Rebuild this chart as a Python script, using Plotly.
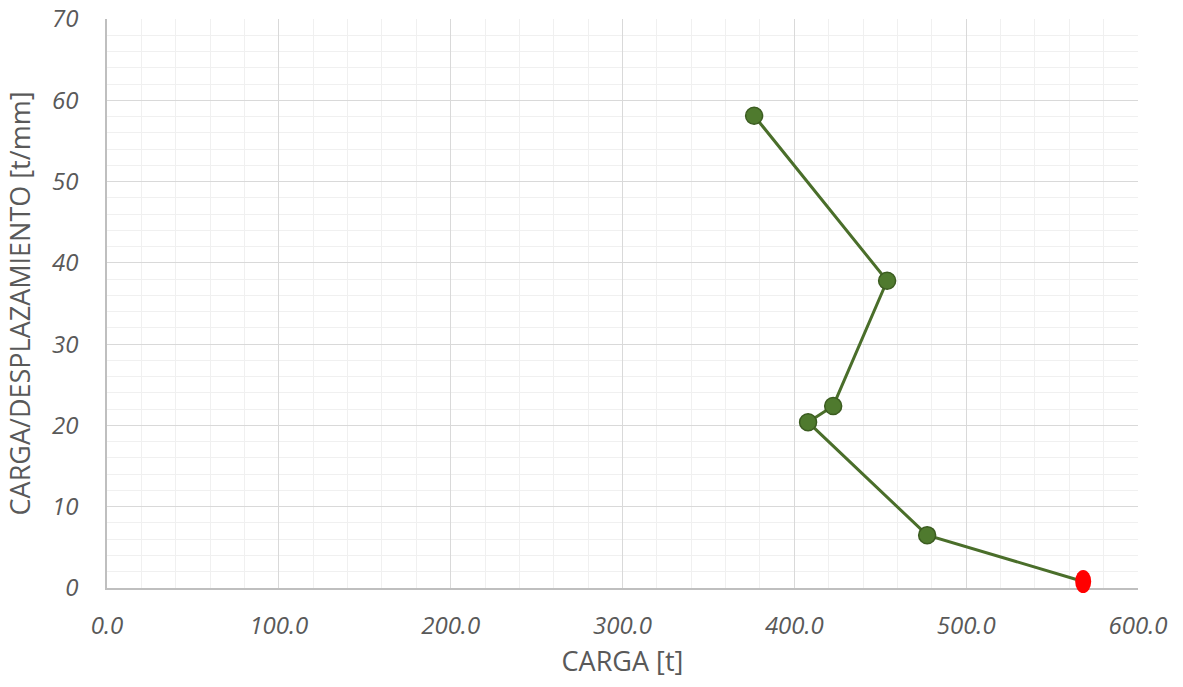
import plotly.graph_objects as go

# Load test results: load vs. load/displacement ratio
carga = [376.6, 454.0, 422.6, 408.0, 477.3, 568.1]
rigidez = [58.1, 37.8, 22.4, 20.4, 6.5, 0.8]

x_ticks = [0, 100, 200, 300, 400, 500, 600]
x_labels = ["0.0", "100.0", "200.0", "300.0", "400.0", "500.0", "600.0"]
y_ticks = [0, 10, 20, 30, 40, 50, 60, 70]
y_labels = ["0", "10", "20", "30", "40", "50", "60", "70"]

x_range = [0, 600]
y_range = [0, 70]

green_line = "#4A6E2A"
green_fill = "#4F7A2E"
green_edge = "#3B5C20"
tick_color = "#595959"
font_family = "Open Sans, Liberation Sans, sans-serif"

fig = go.Figure()

# Connecting line through all readings
fig.add_trace(go.Scatter(
    x=carga, y=rigidez, mode="lines",
    line=dict(color=green_line, width=3),
    hoverinfo="skip", showlegend=False,
))

# Green markers for all but the last reading
fig.add_trace(go.Scatter(
    x=carga[:-1], y=rigidez[:-1], mode="markers",
    marker=dict(size=17, color=green_fill, line=dict(color=green_edge, width=1.5)),
    showlegend=False,
))

# Final reading highlighted as a red ellipse (taller than wide), not clipped at the axis
x_last, y_last = carga[-1], rigidez[-1]
fig.add_shape(
    type="circle", xref="paper", yref="paper",
    xsizemode="pixel", ysizemode="pixel",
    xanchor=(x_last - x_range[0]) / (x_range[1] - x_range[0]),
    yanchor=(y_last - y_range[0]) / (y_range[1] - y_range[0]),
    x0=-8, x1=8, y0=-11.5, y1=11.5,
    fillcolor="#FF0000", line=dict(color="#FF0000", width=0),
    layer="above",
)

fig.update_layout(
    width=1183, height=687,
    margin=dict(l=107, r=45, t=19, b=99),
    paper_bgcolor="white", plot_bgcolor="white",
    font=dict(family=font_family, color=tick_color),
    xaxis=dict(
        range=x_range, tickvals=x_ticks, ticktext=x_labels,
        tickfont=dict(size=24, color=tick_color, style="italic"),
        showgrid=True, gridcolor="#D9D9D9", gridwidth=1,
        minor=dict(dtick=20, tick0=0, showgrid=True, gridcolor="#F0F0F0", gridwidth=1),
        showline=True, linecolor="#BFBFBF", linewidth=1.5,
        zeroline=False, ticks="", ticklabelstandoff=15,
        automargin=False,
        title=dict(text="CARGA [t]", font=dict(size=27, color=tick_color), standoff=13),
    ),
    yaxis=dict(
        range=y_range, tickvals=y_ticks, ticktext=y_labels,
        tickfont=dict(size=24, color=tick_color, style="italic"),
        showgrid=True, gridcolor="#D9D9D9", gridwidth=1,
        minor=dict(dtick=2, tick0=0, showgrid=True, gridcolor="#F0F0F0", gridwidth=1),
        showline=True, linecolor="#BFBFBF", linewidth=1.5,
        zeroline=False, ticks="", ticklabelstandoff=22,
        automargin=False,
        title=dict(text="CARGA/DESPLAZAMIENTO [t/mm]", font=dict(size=27, color=tick_color), standoff=14),
    ),
)

fig.write_html("out.html")
